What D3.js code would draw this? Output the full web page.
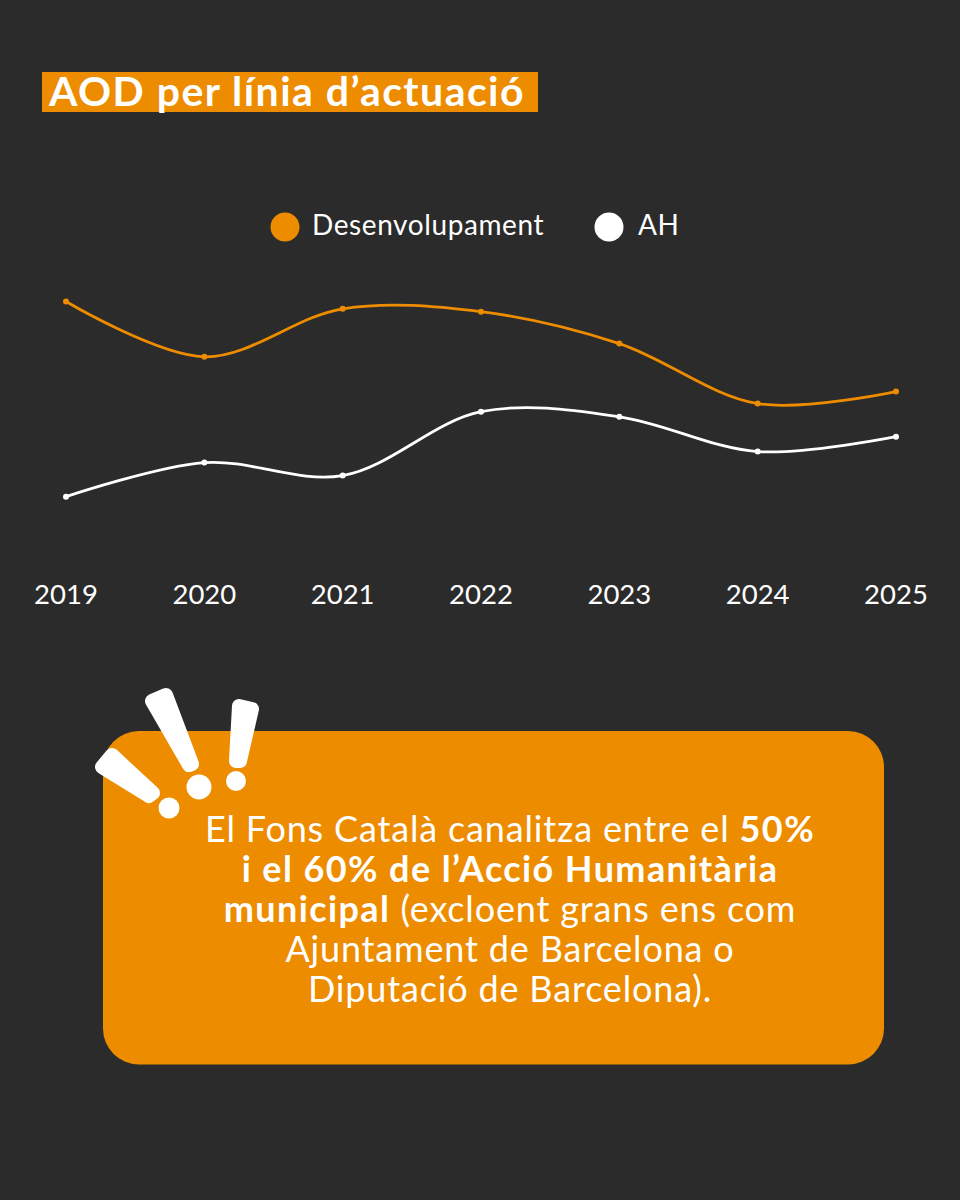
<!DOCTYPE html>
<html>
<head>
<meta charset="utf-8">
<script src="https://cdn.jsdelivr.net/npm/d3@7"></script>
<style>
  html, body { margin: 0; padding: 0; background: #2b2b2b; }
  svg { display: block; }
  text { font-family: Lato, sans-serif; fill: #fff; }
</style>
</head>
<body>
<div id="chart"></div>
<script>
// values (no y axis in the original, scale 0-100 is only relative)
var years = ["2019", "2020", "2021", "2022", "2023", "2024", "2025"];
var desenvolupament = [91.3, 68.3, 88.3, 87.1, 73.8, 48.8, 53.8];
var ah = [10, 24.2, 18.8, 45.4, 43.3, 28.8, 35];
var seriesNames = ["Desenvolupament", "AH"];
var titleText = "AOD per línia d’actuació";
// callout lines, each line is a list of [text, bold]
var calloutLines = [
  [["El Fons Català canalitza entre el ", false], ["50%", true]],
  [["i el 60% de l’Acció Humanitària", true]],
  [["municipal", true], [" (excloent grans ens com", false]],
  [["Ajuntament de Barcelona o", false]],
  [["Diputació de Barcelona).", false]]
];

var orange = "#ee8c00", white = "#ffffff";
var svg = d3.select("#chart").append("svg").attr("width", 960).attr("height", 1200);

svg.append("rect").attr("width", 960).attr("height", 1200).attr("fill", "#2b2b2b");

// title
svg.append("rect").attr("x", 42).attr("y", 72).attr("width", 496).attr("height", 40).attr("fill", orange);
svg.append("text").attr("x", 49).attr("y", 105.5)
  .attr("font-size", 41).attr("font-weight", 700).attr("letter-spacing", 1.45).text(titleText);

// legend
var legendPos = [{ cx: 285, tx: 312 }, { cx: 609, tx: 638 }];
var legendCols = [orange, white];
var legend = svg.selectAll(".legend").data(seriesNames).enter().append("g").attr("class", "legend");
legend.append("circle").attr("cx", function(d, i) { return legendPos[i].cx; }).attr("cy", 227).attr("r", 14.5)
  .attr("fill", function(d, i) { return legendCols[i]; });
legend.append("text").attr("x", function(d, i) { return legendPos[i].tx; }).attr("y", 235)
  .attr("font-size", 28).attr("letter-spacing", 0.6).text(function(d) { return d; });

// scales
var x = d3.scalePoint().domain(years).range([66, 896]);
var y = d3.scaleLinear().domain([0, 100]).range([520.7, 280.7]);

var line = d3.line()
  .x(function(d, i) { return x(years[i]); })
  .y(function(d) { return y(d); })
  .curve(d3.curveCatmullRom.alpha(0.5));

[[desenvolupament, orange], [ah, white]].forEach(function(s) {
  svg.append("path").attr("d", line(s[0])).attr("fill", "none").attr("stroke", s[1]).attr("stroke-width", 2.8);
  svg.append("g").selectAll("circle").data(s[0]).enter().append("circle")
    .attr("cx", function(d, i) { return x(years[i]); })
    .attr("cy", function(d) { return y(d); })
    .attr("r", 3).attr("fill", s[1]);
});

// x axis, only the labels are visible
var axis = svg.append("g").attr("transform", "translate(-0.5,580)")
  .call(d3.axisBottom(x).tickSize(0).tickPadding(0));
axis.select(".domain").remove();
axis.selectAll("text").attr("font-size", 27.5).attr("font-family", "Lato, sans-serif").attr("fill", white)
  .attr("dy", 0).attr("y", 24);

// callout
svg.append("rect").attr("x", 103).attr("y", 731).attr("width", 781).attr("height", 333.5).attr("rx", 36).attr("fill", orange);

var marks = [
  { pts: "102,767 112,755 153,793 149,796", dot: [169, 808, 10.5] },
  { pts: "152,701 166,695 192,764 189,765", dot: [199, 787, 12.5] },
  { pts: "239,706 252,709 240,761 236,761", dot: [236, 781, 10] }
];
marks.forEach(function(m) {
  svg.append("polygon").attr("points", m.pts).attr("fill", white).attr("stroke", white)
    .attr("stroke-width", 14).attr("stroke-linejoin", "round");
  svg.append("circle").attr("cx", m.dot[0]).attr("cy", m.dot[1]).attr("r", m.dot[2]).attr("fill", white);
});

var calloutText = svg.append("text").attr("text-anchor", "middle").attr("font-size", 36).attr("letter-spacing", 0.84);
calloutLines.forEach(function(parts, i) {
  var t = calloutText.append("tspan").attr("x", 510).attr("y", 842 + i * 40);
  parts.forEach(function(p, j) {
    (j == 0 ? t : calloutText.append("tspan")).text(p[0])
      .attr("font-weight", p[1] ? 700 : 400)
      .attr("letter-spacing", p[1] ? 1.4 : 0.84);
  });
});
</script>
</body>
</html>
